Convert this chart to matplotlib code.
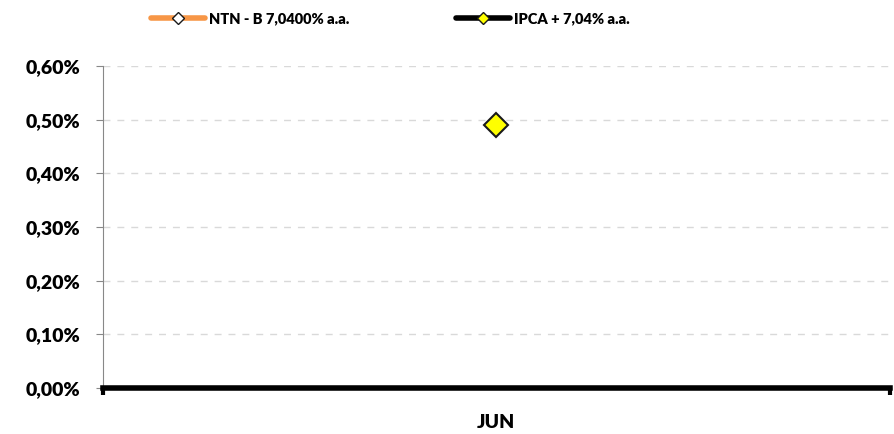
import matplotlib

matplotlib.use("Agg")

import matplotlib.pyplot as plt  # noqa: E402
from matplotlib.ticker import FuncFormatter  # noqa: E402

# données
meses = ["JUN"]
ntnb = [None]          # série sans valeur visible
ipca = [0.49]          # IPCA + 7,04% a.a. (en %)
yticks = [0.0, 0.1, 0.2, 0.3, 0.4, 0.5, 0.6]

plt.rcParams["font.family"] = ["Lato", "DejaVu Sans"]
plt.rcParams["font.weight"] = "heavy"

fig = plt.figure(figsize=(8.95, 4.34), dpi=100)
ax = fig.add_axes([0.115, 0.106, 0.879, 0.742])

x = list(range(len(meses)))
ax.plot(x, [v if v is not None else float("nan") for v in ntnb],
        color="#f79646", lw=4, marker="D", ms=6, mfc="white", mec="#1a1a1a",
        label="NTN - B 7,0400% a.a.")
ax.plot(x, ipca, color="black", lw=0, marker="D", ms=12, mfc="#ffff00",
        mec="#1a1a1a", mew=1.5, label="IPCA + 7,04% a.a.")

ax.set_xlim(-0.5, len(meses) - 0.5)
ax.set_ylim(0, 0.6)
ax.set_yticks(yticks)
ax.yaxis.set_major_formatter(FuncFormatter(lambda v, _: f"{v:.2f}%".replace(".", ",")))
ax.set_xticks(x)
ax.set_xticklabels(meses)
ax.set_xticks([-0.5, len(meses) - 0.5], minor=True)

ax.grid(axis="y", ls=(0, (5, 5)), color="#d9d9d9", lw=1)
ax.set_axisbelow(True)

for s in ["top", "right"]:
    ax.spines[s].set_visible(False)
ax.spines["left"].set_color("#888888")
ax.spines["bottom"].set_color("black")
ax.spines["bottom"].set_linewidth(4)

ax.tick_params(axis="y", length=5, color="#888888", labelsize=14, pad=11)
ax.tick_params(axis="x", which="major", length=0, labelsize=14, pad=19)
ax.tick_params(axis="x", which="minor", length=5, width=3, color="black")
for lab in ax.get_xticklabels() + ax.get_yticklabels():
    lab.set_fontweight("heavy")

h1 = plt.Line2D([], [], color="#f79646", lw=4, marker="D", ms=6,
                mfc="white", mec="#1a1a1a", solid_capstyle="round")
h2 = plt.Line2D([], [], color="black", lw=4, marker="D", ms=6,
                mfc="#ffff00", mec="#1a1a1a", solid_capstyle="round")
fig.legend([h1, h2], ["NTN - B 7,0400% a.a.", "IPCA + 7,04% a.a."],
           loc="center", bbox_to_anchor=(0.436, 0.956), ncol=2,
           frameon=False, handlelength=3.7, handletextpad=0.3,
           columnspacing=7.3, prop={"weight": "heavy", "size": 10.5})

fig.savefig("out.png", dpi=100)
plt.close(fig)
